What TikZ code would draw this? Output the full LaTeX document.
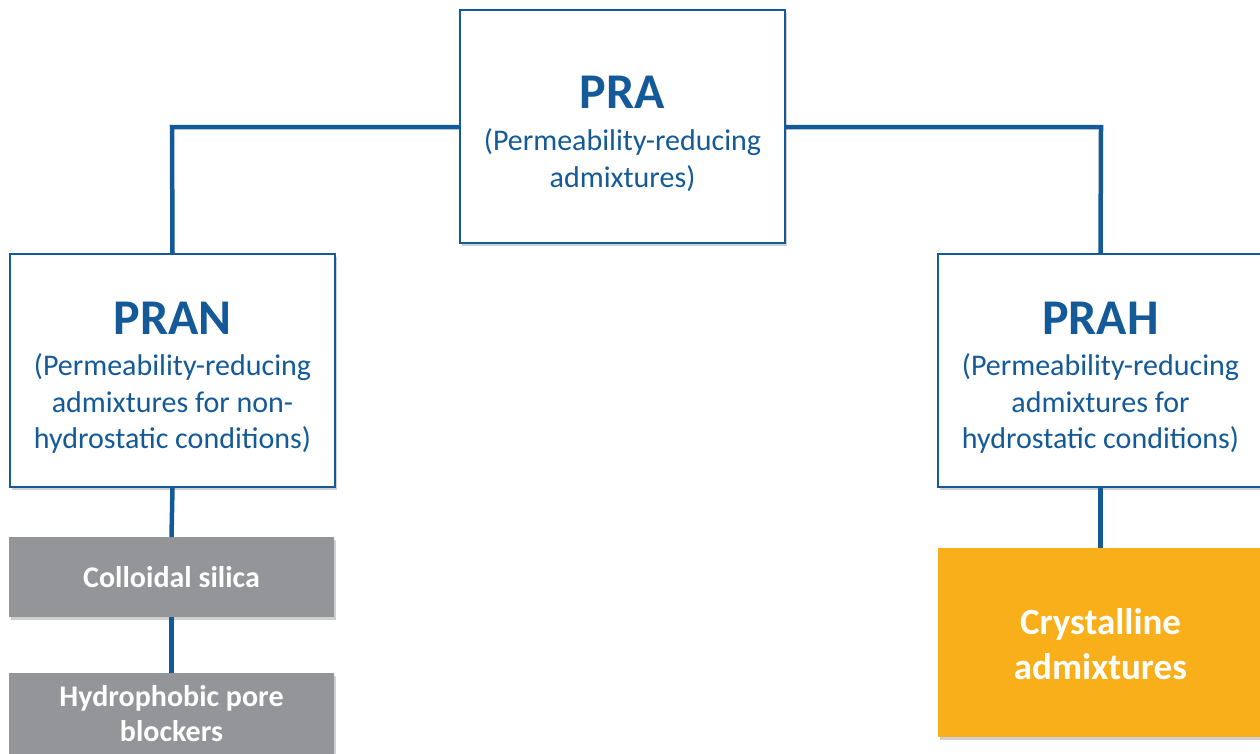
\documentclass[tikz,border=0pt]{standalone}
\usepackage{fontspec}
\setmainfont{Carlito}
\usetikzlibrary{shadows}
\definecolor{pblue}{RGB}{20,90,152}
\definecolor{pgray}{RGB}{147,149,152}
\definecolor{porange}{RGB}{248,175,25}
\tikzset{
  shad/.style={drop shadow={shadow xshift=2pt,shadow yshift=-3pt,opacity=0.3,fill=black!60}},
  bluebox/.style={shad,draw=pblue,line width=2pt,fill=white,minimum width=325pt,minimum height=233pt,
    inner sep=0pt,align=center,text=pblue,font=\fontsize{30}{36.6}\selectfont},
  graybox/.style={shad,fill=pgray,minimum width=325pt,minimum height=80pt,inner sep=0pt,align=center,
    text=white,font=\bfseries\fontsize{30}{36}\selectfont},
  orangebox/.style={shad,fill=porange,minimum width=325pt,minimum height=189pt,inner sep=0pt,align=center,
    text=white,font=\bfseries\fontsize{37}{45}\selectfont},
  conn/.style={draw=pblue,line width=4.5pt}
}
\newcommand{\ttl}[1]{\rule{0pt}{47pt}{\bfseries\fontsize{50}{56}\selectfont #1}\\[5pt]}
\begin{document}
\begin{tikzpicture}[x=1pt,y=-1pt]
\clip (0,0) rectangle (1260,753);
\fill[white] (0,0) rectangle (1260,753);
\coordinate (jl) at (172,127);
\coordinate (jr) at (1101,127);
\node[bluebox] (pra) at (622.5,126.5) {\ttl{PRA}(Permeability-reducing\\admixtures)};
\node[bluebox] (pran) at (172.5,370.5) {\ttl{PRAN}(Permeability-reducing\\admixtures for non-\\hydrostatic conditions)};
\node[bluebox] (prah) at (1100.5,370.5) {\ttl{PRAH}(Permeability-reducing\\admixtures for\\hydrostatic conditions)};
\node[graybox] (cs) at (171.5,577) {Colloidal silica};
\node[graybox,minimum height=82pt] (hp) at (171.5,714) {Hydrophobic pore\\[-1pt]blockers};
\node[orangebox] (cr) at (1100.5,642.5) {\rule{0pt}{30pt}Crystalline\\admixtures};
\draw[conn] (pra.west |- jl) -- (jl) -- (pran.north);
\draw[conn] (pra.east |- jr) -- (jr) -- (prah.north);
\draw[conn] (pran.south) -- (cs.north);
\draw[conn] (cs.south) -- (hp.north);
\draw[conn] (prah.south) -- (cr.north);
\end{tikzpicture}
\end{document}
